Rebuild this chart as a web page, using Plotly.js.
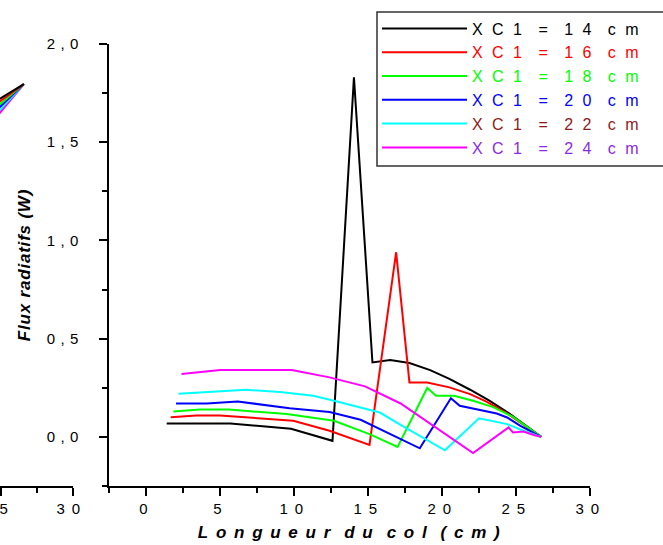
<!DOCTYPE html>
<html>
<head>
<meta charset="utf-8">
<script src="https://cdn.plot.ly/plotly-3.0.1.min.js"></script>
<style>
body{margin:0;padding:0;background:#fff;}
#chart{width:663px;height:545px;}
.xtick text, .x2tick text { letter-spacing: 1.4px; }
.ytick text { letter-spacing: 0.6px; }
.legendtext { letter-spacing: 2.5px; }
.xtitle { letter-spacing: 1.5px; }
.ytitle { letter-spacing: 0.8px; }
</style>
</head>
<body>
<div id="chart"></div>
<script>
// ---- data ----
const NB = '\u00a0';
const seriesNames = ['X C 1  =  1 4  c m','X C 1  =  1 6  c m','X C 1  =  1 8  c m','X C 1  =  2 0  c m','X C 1  =  2 2  c m','X C 1  =  2 4  c m'];
const lineColors = ['#000000','#ff0000','#00ff00','#0000ff','#00ffff','#ff00ff'];
const textColors = ['#000000','#ff0000','#00ff00','#0000ff','#8b1a1a','#8a2be2'];

const x14 = [1.4,5.7,9.8,12.6,14.05,15.3,16.5,17.8,19.2,20.5,21.9,23.2,24.6,26.7];
const y14 = [0.068,0.068,0.041,-0.02,1.83,0.379,0.391,0.376,0.34,0.295,0.24,0.185,0.116,0.0];
const x16 = [1.67,3.4,5.0,9.95,12.4,15.1,16.9,17.8,19.0,20.5,21.9,23.0,24.4,26.7];
const y16 = [0.1,0.109,0.109,0.082,0.031,-0.041,0.94,0.277,0.277,0.252,0.218,0.18,0.12,0.0];
const x18 = [1.85,3.65,5.6,9.5,12.7,15.1,17.0,19.0,19.6,20.8,22.1,23.5,24.8,26.7];
const y18 = [0.129,0.139,0.139,0.116,0.082,0.014,-0.051,0.249,0.209,0.209,0.184,0.15,0.102,0.0];
const x20 = [2.03,4.1,6.2,9.7,12.4,14.5,18.5,20.6,21.2,22.3,23.7,24.4,25.3,26.7];
const y20 = [0.17,0.17,0.18,0.146,0.127,0.087,-0.058,0.197,0.158,0.141,0.119,0.099,0.056,0.0];
const x22 = [2.2,5.0,6.76,9.05,11.3,12.7,15.8,17.2,20.2,22.5,23.2,24.4,25.5,26.7];
const y22 = [0.219,0.231,0.24,0.228,0.209,0.184,0.124,0.061,-0.068,0.095,0.085,0.065,0.031,0.0];
const x24 = [2.4,5.0,9.85,12.4,14.8,17.2,22.1,24.5,24.8,25.5,26.2,26.7];
const y24 = [0.32,0.34,0.34,0.303,0.257,0.17,-0.082,0.048,0.022,0.027,0.01,0.0];

// fragment of the neighbouring chart visible at the left edge
const fragX = [24.9, 26.6];
const fragY = [[1.72,1.796],[1.706,1.796],[1.691,1.796],[1.676,1.796],[1.661,1.796],[1.646,1.796]];

const xTickVals = [0,5,10,15,20,25,30];
const xTickText = ['0','5','1 0','1 5','2 0','2 5','3 0'];
const yTickVals = [0,0.5,1.0,1.5,2.0];
const yTickText = ['0 , 0','0 , 5','1 , 0','1 , 5','2 , 0'];
const fragTickVals = [25, 30];
const fragTickText = ['2 5', '3 0'];

const xTitle = 'L o n g u e u r  d u  c o l  ( c m )';
const yTitle = 'Flux radiatifs (W)';

// ---- build ----
const FONT = 'Arial, "Liberation Sans", sans-serif';
const W = 663, H = 545;
const xs = [x14,x16,x18,x20,x22,x24];
const ys = [y14,y16,y18,y20,y22,y24];
const nb = s => s.replace(/ /g, NB);

const traces = [];
for (let i = 0; i < 6; i++) {
  traces.push({
    x: xs[i], y: ys[i], type: 'scatter', mode: 'lines',
    name: '<span style="color:' + textColors[i] + '">' + nb(seriesNames[i]) + '</span>',
    legendgroup: 'g' + i,
    line: {color: lineColors[i], width: 2},
    xaxis: 'x', yaxis: 'y'
  });
}
for (let i = 5; i >= 0; i--) {
  traces.push({
    x: fragX, y: fragY[i], type: 'scatter', mode: 'lines',
    showlegend: false, hoverinfo: 'skip',
    line: {color: lineColors[i], width: 2},
    xaxis: 'x2', yaxis: 'y2'
  });
}

const yDom = [1 - 486/H, 1 - 44/H];
const axCommon = {
  showline: true, linecolor: '#000', linewidth: 2,
  ticks: 'outside', ticklen: 8, tickwidth: 2, tickcolor: '#000',
  showgrid: false, zeroline: false,
  tickfont: {family: FONT, size: 15, color: '#000'}
};

const layout = {
  width: W, height: H,
  margin: {l: 0, r: 0, t: 0, b: 0},
  paper_bgcolor: '#fff', plot_bgcolor: 'rgba(0,0,0,0)',
  font: {family: FONT, color: '#000'},
  showlegend: true,
  legend: {
    x: 377/W, y: 1 - 11.5/H, xanchor: 'left', yanchor: 'top',
    bgcolor: 'rgba(0,0,0,0)', borderwidth: 0,
    font: {family: FONT, size: 16},
    itemwidth: 85, tracegroupgap: 2.3, traceorder: 'normal'
  },
  xaxis: Object.assign({}, axCommon, {
    domain: [109/W, 590/W], range: [-2.5, 30], anchor: 'y',
    tickmode: 'array', tickvals: xTickVals, ticktext: xTickText.map(nb),
    ticklabelshift: -2,
    minor: {tick0: 0, dtick: 2.5, ticks: 'outside', ticklen: 5, tickwidth: 2, tickcolor: '#000'},
    title: {text: nb(xTitle), font: {family: FONT, size: 17, weight: 'bold', style: 'italic'}, standoff: 10}
  }),
  yaxis: Object.assign({}, axCommon, {
    domain: yDom, range: [-0.25, 2.0], anchor: 'x',
    tickmode: 'array', tickvals: yTickVals, ticktext: yTickText.map(nb),
    ticklabelstandoff: 17,
    minor: {tick0: 0, dtick: 0.25, ticks: 'outside', ticklen: 5, tickwidth: 2, tickcolor: '#000'},
    title: {text: yTitle, font: {family: FONT, size: 17, weight: 'bold', style: 'italic'}, standoff: 12}
  }),
  xaxis2: Object.assign({}, axCommon, {
    domain: [0, 73/W], range: [24.95, 30], anchor: 'y2',
    tickmode: 'array', tickvals: fragTickVals, ticktext: fragTickText.map(nb),
    ticklabelshift: -4, ticklabeloverflow: 'allow',
    minor: {tick0: 0, dtick: 2.5, ticks: 'outside', ticklen: 5, tickwidth: 2, tickcolor: '#000'}
  }),
  yaxis2: {
    domain: yDom, range: [-0.25, 2.0], anchor: 'x2', visible: false,
    showgrid: false, zeroline: false
  },
  shapes: [{
    type: 'rect', xref: 'paper', yref: 'paper', layer: 'below',
    x0: 377/W, x1: 1.2, y0: 1 - 166/H, y1: 1 - 12/H,
    line: {color: '#333', width: 1.5}, fillcolor: '#fff'
  }]
};

Plotly.newPlot('chart', traces, layout, {staticPlot: true, displayModeBar: false});
</script>
</body>
</html>
